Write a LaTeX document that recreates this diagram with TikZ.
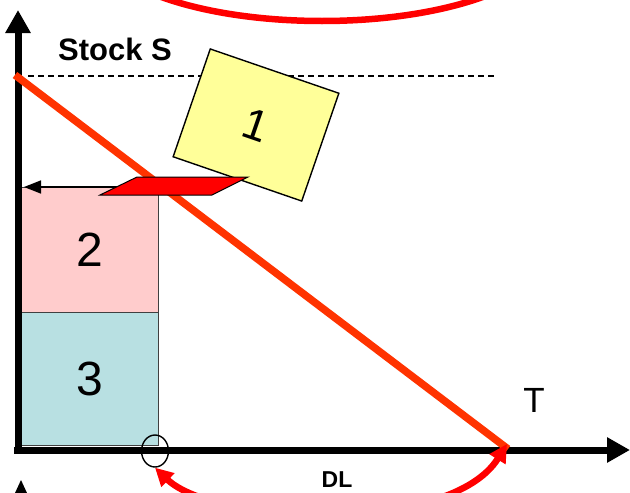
\documentclass[tikz,border=0pt]{standalone}
\usepackage{fontspec}
\setmainfont{Liberation Sans}
\usetikzlibrary{arrows.meta,shapes.geometric}
\definecolor{lineor}{RGB}{255,51,0}
\definecolor{pinkbox}{RGB}{255,204,204}
\definecolor{tealbox}{RGB}{184,224,226}
\definecolor{yelbox}{RGB}{255,255,153}
\begin{document}
\begin{tikzpicture}[x=1pt,y=-1pt,
  axisline/.style={line width=7pt,-{Triangle[length=23pt,width=24pt]}},
  areabox/.style={draw=black!75,line width=1pt,inner sep=0pt,anchor=north west,
     minimum width=137pt,font=\fontsize{48}{48}\selectfont},
  redarc/.style={red,line width=6.5pt},
  lbl/.style={inner sep=0pt}]
\useasboundingbox (0,0) rectangle (630,493);
\clip (0,0) rectangle (630,493);
% coordinates
\coordinate (ytop) at (18,10);
\coordinate (xend) at (630,450);
\coordinate (xstart) at (14,450);
\coordinate (ybot) at (18,453);
\coordinate (dashL) at (28,76);
\coordinate (dashR) at (497,76);
\coordinate (rlA) at (15,75);
\coordinate (T0) at (508,449);
% boxes
\node[areabox,fill=pinkbox,minimum height=125pt] (box2) at (21,187) {2};
\node[areabox,fill=tealbox,minimum height=133pt] (box3) at (21,312) {3};
% dashed stock line
\draw[line width=1.3pt,dash pattern=on 6pt off 4pt] (dashL) -- (dashR);
% axes
\draw[axisline] (ybot) -- (ytop);
\draw[axisline] (xstart) -- (xend);
% diagonal
\draw[lineor,line width=7.5pt] (rlA) -- (T0);
% box 1
\node[draw=black,line width=1.4pt,fill=yelbox,minimum width=136pt,minimum height=114pt,
  inner sep=0pt,rotate=-19,font=\fontsize{44}{44}\selectfont] (box1) at (256,125) {1};
% arrow to axis
\draw[line width=1.5pt,-{Triangle[length=17pt,width=13pt]}] (box2.north east) -- ([xshift=3pt]box2.north west);
% parallelogram
\filldraw[fill=red,draw=black,line width=1pt] (100,195) -- (137,177) -- (248,177) -- (212,195) -- cycle;
% small circle
\node[draw=black,line width=1.4pt,ellipse,minimum width=27pt,minimum height=32pt,inner sep=0pt] (circ) at (155,451) {};
% top red ellipse
\draw[redarc] (322,-60) ellipse [x radius=226, y radius=81];
% bottom red double arrow
\draw[redarc,{Triangle[length=18pt,width=18pt]}-{Triangle[length=18pt,width=18pt]}]
  (circ.south) .. controls (215,525) and (450,535) .. ([xshift=-1pt,yshift=5pt]T0);
% bottom-left cut off tip
\fill (15,493) -- (21,480) -- (27,493) -- cycle;
% labels
\node[lbl,font=\fontsize{31}{31}\selectfont\bfseries] (stock) at (115,49) {Stock S};
\node[lbl,font=\fontsize{35}{35}\selectfont] (tlab) at (534,400) {T};
\node[lbl,font=\fontsize{23}{23}\selectfont\bfseries] (dl) at (337,480) {DL};
\end{tikzpicture}
\end{document}
